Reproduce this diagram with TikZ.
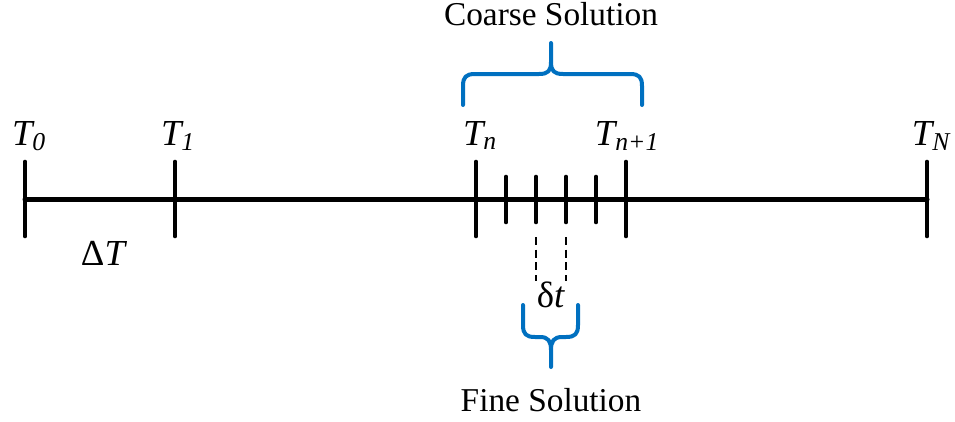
\documentclass[tikz,border=0pt]{standalone}
\usepackage{fontspec}
\setmainfont{Liberation Serif}
\usetikzlibrary{positioning}
\definecolor{BraceBlue}{HTML}{0070C0}

\begin{document}
\begin{tikzpicture}[
    x=0.75pt, y=-0.75pt,
    axis/.style={line width=3.75pt, line cap=round},
    major/.style={line width=3.5pt, line cap=round},
    minor/.style={line width=3.5pt, line cap=round},
    guide/.style={line width=1.4pt, dash pattern=on 6pt off 3.5pt},
    curly/.style={draw=BraceBlue, line width=3pt, line cap=round, line join=round},
    lbl/.style={font=\fontsize{25}{30}\selectfont, inner sep=0pt, anchor=base},
    tlbl/.style={lbl, font=\fontsize{27.5}{32}\selectfont}
]
\useasboundingbox (0,0) rectangle (955,421);

% coarse grid
\coordinate (t0) at (25,199);
\coordinate (t1) at (175,199);
\coordinate (tn) at (476,199);
\coordinate (tm) at (626,199);
\coordinate (tN) at (927,199);

\draw[axis] (t0) -- (tN);
\foreach \c in {t0,t1,tn,tm,tN}
    \draw[major] (\c) ++(0,-37) -- ++(0,74);

% fine grid
\foreach \x [count=\i] in {506,536,566,596} {
    \coordinate (f\i) at (\x,199);
    \draw[minor] (f\i) ++(0,-22) -- ++(0,45);
}
\coordinate (d2) at (536,281);
\coordinate (d3) at (566,281);
\draw[guide] (f2) ++(0,38) -- (d2);
\draw[guide] (f3) ++(0,38) -- (d3);

% labels
\node[tlbl] (T0) at (29,145) {\textit{T\textsubscript{0}}};
\node[tlbl] (T1) at (178,145) {\textit{T\textsubscript{1}}};
\node[tlbl] (Tn) at (480,145) {\textit{T\textsubscript{n}}};
\node[tlbl] (Tm) at (627,145) {\textit{T\textsubscript{n+1}}};
\node[tlbl] (TN) at (931,145) {\textit{T\textsubscript{N}}};
\node[tlbl] (DT) at (104,265) {Δ\textit{T}};
\node[tlbl] (dt) at (551,307) {δ\textit{t}};

% braces
\draw[curly] (463,105) -- (463,86) .. controls (463,77) and (466,74) .. (475,74)
    -- (539,74) .. controls (548,74) and (551,71) .. (551,62) -- (551,43)
    (551,62) .. controls (551,71) and (554,74) .. (563,74)
    -- (630,74) .. controls (639,74) and (642,77) .. (642,86) -- (642,105);
\draw[curly] (523,305) -- (523,325) .. controls (523,334) and (526,337) .. (535,337)
    -- (540,337) .. controls (548,337) and (551,341) .. (551,350) -- (551,367)
    (551,350) .. controls (551,341) and (554,337) .. (562,337)
    -- (566,337) .. controls (575,337) and (578,334) .. (578,325) -- (578,305);

\node[lbl] (coarse) at (551,26) {Coarse Solution};
\node[lbl] (fine) at (551,411) {Fine Solution};
\end{tikzpicture}
\end{document}
